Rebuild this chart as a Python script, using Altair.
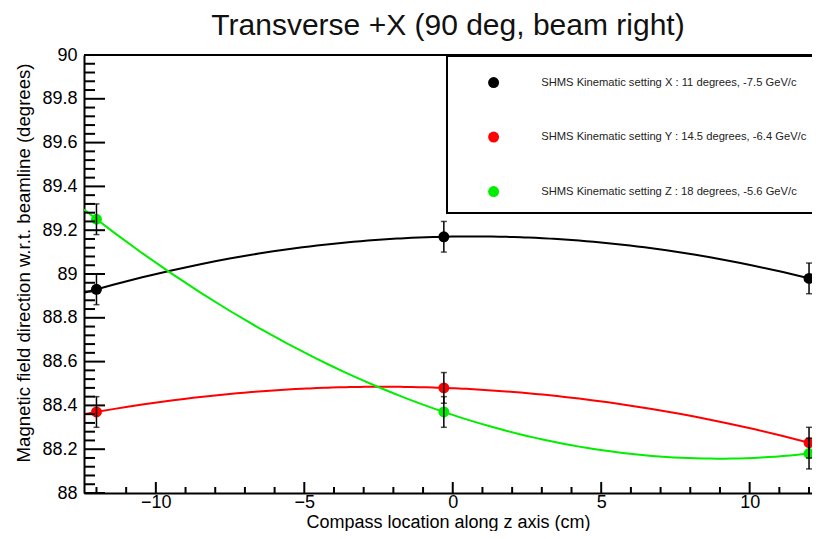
import altair as alt
import pandas as pd

# ---------------- data ----------------
series_names = [
    "SHMS Kinematic setting X : 11 degrees, -7.5 GeV/c",
    "SHMS Kinematic setting Y : 14.5 degrees, -6.4 GeV/c",
    "SHMS Kinematic setting Z : 18 degrees, -5.6 GeV/c",
]
series_colors = ["#000000", "#ff0000", "#00ee00"]
z_positions = [-12.0, -0.3, 12.0]
field_X = [88.93, 89.17, 88.98]
field_Y = [88.37, 88.48, 88.23]
field_Z = [89.25, 88.37, 88.18]
err_X = [0.07, 0.07, 0.07]
err_Y = [0.07, 0.07, 0.07]
err_Z = [0.07, 0.07, 0.07]

x_domain = [-12.42, 12.1]
y_domain = [88.0, 90.0]
x_major = [-10, -5, 0, 5, 10]
x_minor = [v for v in range(-12, 13) if v % 5 != 0]
y_major = [round(88.0 + 0.2 * i, 2) for i in range(11)]
y_minor = [round(88.0 + 0.04 * i, 2) for i in range(51) if i % 5 != 0]

rows = []
for name, vals, errs in zip(series_names, [field_X, field_Y, field_Z], [err_X, err_Y, err_Z]):
    for x, v, e in zip(z_positions, vals, errs):
        rows.append({"series": name, "z": x, "val": v, "err": e})
df = pd.DataFrame(rows)

W, H = 728, 438
FONT = "Liberation Sans"

xs = alt.Scale(domain=x_domain, nice=False, zero=False)
ys = alt.Scale(domain=y_domain, nice=False, zero=False)
color_scale = alt.Scale(domain=series_names, range=series_colors)

x_axis = alt.Axis(
    title="Compass location along z axis (cm)", values=x_major, format="d",
    ticks=False, tickSize=0, grid=False, labelPadding=0, labelFontSize=18,
    labelFont=FONT, labelColor="#000", domainColor="#000", domainWidth=2,
    titleFont=FONT, titleFontSize=18, titleFontWeight="normal", titleColor="#000",
    titleY=34, titleBaseline="alphabetic", titleAnchor="middle",
)
y_axis = alt.Axis(
    title="Magnetic field direction w.r.t. beamline (degrees)", values=y_major,
    format=".1~f", ticks=False, tickSize=0, grid=False, labelPadding=7,
    labelFontSize=18, labelFont=FONT, labelColor="#000", domainColor="#000",
    domainWidth=2, titleFont=FONT, titleFontSize=18.6, titleFontWeight="normal",
    titleColor="#000", titleX=-61, titleY=8, titleAlign="right",
    titleBaseline="middle", titleAngle=270,
)
legend = alt.Legend(
    title=None, orient="none", legendX=404, legendY=22, padding=0,
    symbolType="circle", symbolSize=120, symbolStrokeWidth=0,
    symbolOffset=0, labelOffset=42, rowPadding=41.5, labelFontSize=11.2,
    labelFont=FONT, labelColor="#222", labelLimit=400,
)
color_enc = alt.Color("series:N", scale=color_scale, legend=legend)


def X(f):
    return alt.X(f, scale=xs, axis=x_axis)


def Y(f):
    return alt.Y(f, scale=ys, axis=y_axis)


base = alt.Chart(df)

curves = base.transform_regression(
    "z", "val", method="poly", order=2, groupby=["series"], extent=x_domain
).mark_line(strokeWidth=2, clip=True).encode(
    x=X("z:Q"), y=Y("val:Q"), color=color_enc,
)

points = base.mark_circle(size=120, opacity=1).encode(
    x=X("z:Q"), y=Y("val:Q"), color=color_enc,
)

errbars = base.transform_calculate(
    lo="datum.val - datum.err", hi="datum.val + datum.err"
).mark_errorbar(ticks={"size": 6, "color": "#000", "strokeWidth": 1.5},
                color="#000", thickness=1.5).encode(
    x=X("z:Q"), y=Y("lo:Q"), y2="hi:Q",
)

one = pd.DataFrame({"k": [0]})
# legend box
box = alt.Chart(one).mark_rect(
    fill="white", stroke="#000", strokeWidth=2
).encode(x=alt.value(363), x2=alt.value(W + 6), y=alt.value(1), y2=alt.value(158))
# top frame line
top = alt.Chart(one).mark_rule(color="#000", strokeWidth=2).encode(
    x=alt.value(0), x2=alt.value(W), y=alt.value(0))

# inside ticks (ROOT style)
ymaj = alt.Chart(pd.DataFrame({"t": y_major})).mark_rule(color="#000", strokeWidth=2).encode(
    y=Y("t:Q"), x=alt.value(0), x2=alt.value(21))
ymin = alt.Chart(pd.DataFrame({"t": y_minor})).mark_rule(color="#000", strokeWidth=2).encode(
    y=Y("t:Q"), x=alt.value(0), x2=alt.value(11))
xmaj = alt.Chart(pd.DataFrame({"t": x_major})).mark_rule(color="#000", strokeWidth=2).encode(
    x=X("t:Q"), y=alt.value(H), y2=alt.value(H - 11))
xmin = alt.Chart(pd.DataFrame({"t": x_minor})).mark_rule(color="#000", strokeWidth=2).encode(
    x=X("t:Q"), y=alt.value(H), y2=alt.value(H - 6))

chart = alt.layer(
    box, top, curves, points, errbars, ymaj, ymin, xmaj, xmin
).properties(
    width=W, height=H,
    title=alt.TitleParams(
        "Transverse +X (90 deg, beam right)", font=FONT, fontSize=30,
        fontWeight="normal", color="#111", anchor="middle", frame="group",
        offset=5,
    ),
    autosize=alt.AutoSizeParams(type="none"),
    padding={"left": 76, "top": 47, "right": 0, "bottom": 38},
).configure_view(stroke=None).configure(background="white")

chart.save("out.html", embed_options={"renderer": "svg", "actions": False})
